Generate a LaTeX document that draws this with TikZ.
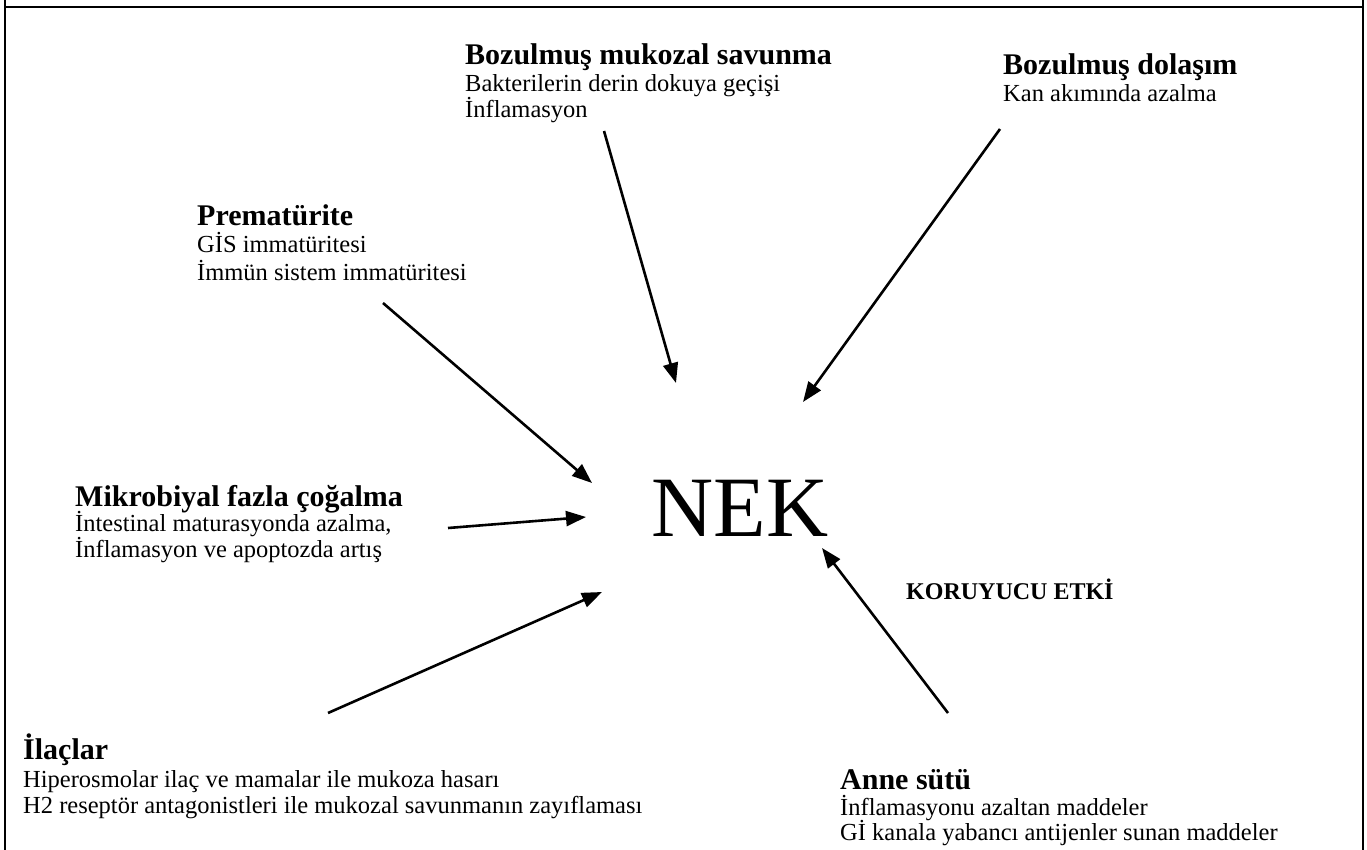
\documentclass[tikz,border=0pt]{standalone}
\usepackage{fontspec}
\setmainfont{Liberation Serif}
\usetikzlibrary{arrows.meta}
\begin{document}
\begin{tikzpicture}[x=1pt,y=-1pt,
  ttl/.style={anchor=base west, inner sep=0pt, font=\fontsize{30}{36}\selectfont\bfseries},
  bdy/.style={anchor=base west, inner sep=0pt, font=\fontsize{24.5}{29}\selectfont},
  arr/.style={line width=2.6pt, -{Triangle[length=20pt,width=15pt]}},
  frameline/.style={line width=2pt}]
\useasboundingbox (0,0) rectangle (1367,850);
% frame
\draw[frameline] (5,0) -- (5,850);
\draw[frameline] (1363,0) -- (1363,850);
\draw[frameline] (5,7) -- (1363,7);
% center
\node[anchor=base, inner sep=0pt, font=\fontsize{86}{92}\selectfont] (nek) at (740,536) {NEK};
% block A
\node[ttl] (a0) at (465,65) {Bozulmuş mukozal savunma};
\node[bdy] (a1) at (465,92) {Bakterilerin derin dokuya geçişi};
\node[bdy] (a2) at (465,118) {İnflamasyon};
% block B
\node[ttl] (b0) at (1003,75) {Bozulmuş dolaşım};
\node[bdy] (b1) at (1003,102) {Kan akımında azalma};
% block C
\node[ttl] (c0) at (197,226) {Prematürite};
\node[bdy] (c1) at (197,253) {GİS immatüritesi};
\node[bdy] (c2) at (197,280) {İmmün sistem immatüritesi};
% block D
\node[ttl] (d0) at (75,506) {Mikrobiyal fazla çoğalma};
\node[bdy] (d1) at (75,531) {İntestinal maturasyonda azalma,};
\node[bdy] (d2) at (75,557) {İnflamasyon ve apoptozda artış};
% block E
\node[ttl] (e0) at (23,759) {İlaçlar};
\node[bdy] (e1) at (23,787) {Hiperosmolar ilaç ve mamalar ile mukoza hasarı};
\node[bdy] (e2) at (23,813) {H2 reseptör antagonistleri ile mukozal savunmanın zayıflaması};
% block F
\node[ttl] (f0) at (840,789) {Anne sütü};
\node[bdy] (f1) at (840,815) {İnflamasyonu azaltan maddeler};
\node[bdy] (f2) at (840,840) {Gİ kanala yabancı antijenler sunan maddeler};
% label
\node[anchor=base west, inner sep=0pt, font=\fontsize{24}{28}\selectfont\bfseries] (kor) at (906,599) {KORUYUCU ETKİ};
% arrow ends
\coordinate (aS) at (604,131); \coordinate (aE) at (676,383);
\coordinate (bS) at (1000,129); \coordinate (bE) at (803,402);
\coordinate (cS) at (383,303); \coordinate (cE) at (592,483);
\coordinate (dS) at (448,528); \coordinate (dE) at (586,517);
\coordinate (eS) at (328,713); \coordinate (eE) at (602,592);
\coordinate (fS) at (948,713); \coordinate (fE) at (822,548);
\draw[arr] (aS) -- (aE);
\draw[arr] (bS) -- (bE);
\draw[arr] (cS) -- (cE);
\draw[arr] (dS) -- (dE);
\draw[arr] (eS) -- (eE);
\draw[arr] (fS) -- (fE);
\end{tikzpicture}
\end{document}
